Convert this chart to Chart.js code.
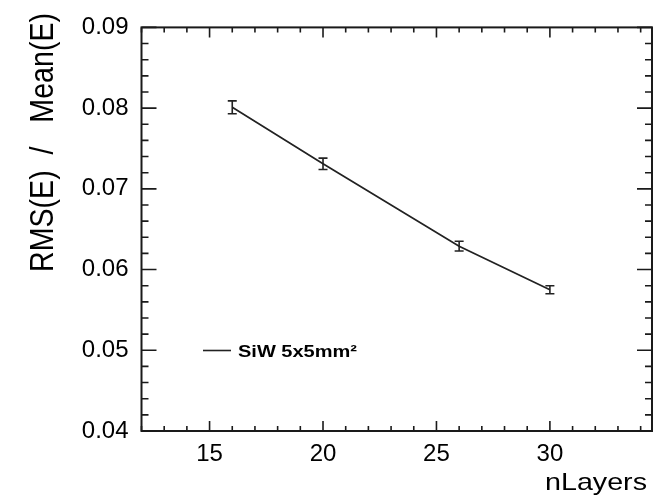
<!DOCTYPE html>
<html>
<head>
<meta charset="utf-8">
<script src="https://cdn.jsdelivr.net/npm/chart.js@4.4.1/dist/chart.umd.min.js"></script>
<style>
  html, body { margin: 0; padding: 0; background: #fff; }
  #wrap { width: 662px; height: 502px; }
</style>
</head>
<body>
<div id="wrap"><canvas id="resChart"></canvas></div>
<script>
// data
const nLayers = [16, 20, 26, 30];
const relRms = [0.0801, 0.0731, 0.0629, 0.0575];
const relRmsErr = [0.0008, 0.0007, 0.0006, 0.0005];

const xTickValues = [15, 20, 25, 30];
const yTickValues = [0.04, 0.05, 0.06, 0.07, 0.08, 0.09];

const seriesLabel = "SiW 5x5mm²";
const xTitle = "nLayers";
const yTitle = "RMS(E)  /   Mean(E)";

const FONT = "'Liberation Sans', Arial, Helvetica, sans-serif";
Chart.defaults.font.family = FONT;
Chart.defaults.color = "#000";

// ** ROOT style frame, inward ticks, error bars, legend, titles **
const rootStyle = {
    id: "rootStyle",
    afterDatasetsDraw(chart) {
        const ctx = chart.ctx;
        const x = chart.scales.x, y = chart.scales.y;
        ctx.save();
        ctx.strokeStyle = "#222";
        ctx.lineWidth = 1.6;
        nLayers.forEach((n, i) => {
            const px = x.getPixelForValue(n);
            const top = y.getPixelForValue(relRms[i] + relRmsErr[i]);
            const bot = y.getPixelForValue(relRms[i] - relRmsErr[i]);
            ctx.beginPath();
            ctx.moveTo(px, top); ctx.lineTo(px, bot);
            ctx.moveTo(px - 4.5, top); ctx.lineTo(px + 4.5, top);
            ctx.moveTo(px - 4.5, bot); ctx.lineTo(px + 4.5, bot);
            ctx.stroke();
        });
        ctx.restore();
    },
    afterDraw(chart) {
        const ctx = chart.ctx;
        const a = chart.chartArea;
        const x = chart.scales.x, y = chart.scales.y;
        ctx.save();
        ctx.strokeStyle = "#1a1a1a";
        ctx.lineWidth = 2;
        ctx.strokeRect(a.left, a.top, a.right - a.left, a.bottom - a.top);

        // x ticks, bottom and top
        ctx.lineWidth = 1.6;
        ctx.beginPath();
        for (let v = Math.ceil(x.min); v <= x.max; v++) {
            const px = x.getPixelForValue(v);
            const len = v % 5 === 0 ? 10 : 5;
            ctx.moveTo(px, a.bottom); ctx.lineTo(px, a.bottom - len);
            ctx.moveTo(px, a.top); ctx.lineTo(px, a.top + len);
        }
        // y ticks, left and right
        for (let k = 0; k <= 25; k++) {
            const py = y.getPixelForValue(0.04 + k * 0.002);
            const len = k % 5 === 0 ? 15 : 7;
            ctx.moveTo(a.left, py); ctx.lineTo(a.left + len, py);
            ctx.moveTo(a.right, py); ctx.lineTo(a.right - len, py);
        }
        ctx.stroke();

        // legend
        ctx.strokeStyle = "#222";
        ctx.lineWidth = 1.6;
        ctx.beginPath();
        ctx.moveTo(203, 350.5); ctx.lineTo(231, 350.5);
        ctx.stroke();
        ctx.fillStyle = "#000";
        ctx.font = "bold 16px " + FONT;
        ctx.textBaseline = "alphabetic";
        ctx.textAlign = "left";
        const lw = ctx.measureText(seriesLabel).width;
        ctx.save();
        ctx.translate(238, 356.5);
        ctx.scale(119 / lw, 1);
        ctx.fillText(seriesLabel, 0, 0);
        ctx.restore();

        // x title
        ctx.font = "24px " + FONT;
        const xw = ctx.measureText(xTitle).width;
        ctx.save();
        ctx.translate(647, 490);
        ctx.scale(102 / xw, 1);
        ctx.textAlign = "right";
        ctx.fillText(xTitle, 0, 0);
        ctx.restore();

        // y title
        ctx.font = "26px " + FONT;
        const yw = ctx.measureText(yTitle).width;
        ctx.save();
        ctx.translate(53, 142.5);
        ctx.rotate(-Math.PI / 2);
        ctx.scale(259 / yw, 1.25);
        ctx.textAlign = "center";
        ctx.fillText(yTitle, 0, 0);
        ctx.restore();

        ctx.restore();
    }
};

new Chart(document.getElementById("resChart").getContext("2d"), {
    type: "scatter",
    data: {
        datasets: [{
            label: seriesLabel,
            data: nLayers.map((n, i) => ({ x: n, y: relRms[i] })),
            showLine: true,
            borderColor: "#222",
            borderWidth: 1.7,
            pointRadius: 0,
            pointHoverRadius: 0,
            tension: 0
        }]
    },
    options: {
        responsive: true,
        maintainAspectRatio: false,
        animation: false,
        events: [],
        layout: { padding: { top: 15, right: 10, left: 0, bottom: 0 } },
        plugins: { legend: { display: false }, tooltip: { enabled: false } },
        scales: {
            x: {
                type: "linear",
                min: 12,
                max: 34.5,
                grid: { display: false, drawTicks: false },
                border: { display: false },
                afterBuildTicks: s => { s.ticks = xTickValues.map(v => ({ value: v })); },
                afterFit: s => { s.height = 71; },
                ticks: { font: { size: 24 }, padding: 9, maxRotation: 0, autoSkip: false, callback: v => String(v) }
            },
            y: {
                type: "linear",
                min: 0.04,
                max: 0.09,
                grid: { display: false, drawTicks: false },
                border: { display: false },
                afterBuildTicks: s => { s.ticks = yTickValues.map(v => ({ value: v })); },
                afterFit: s => { s.width = 141.5; },
                ticks: { font: { size: 24 }, padding: 13, autoSkip: false, callback: v => v.toFixed(2) }
            }
        }
    },
    plugins: [rootStyle]
});
</script>
</body>
</html>
